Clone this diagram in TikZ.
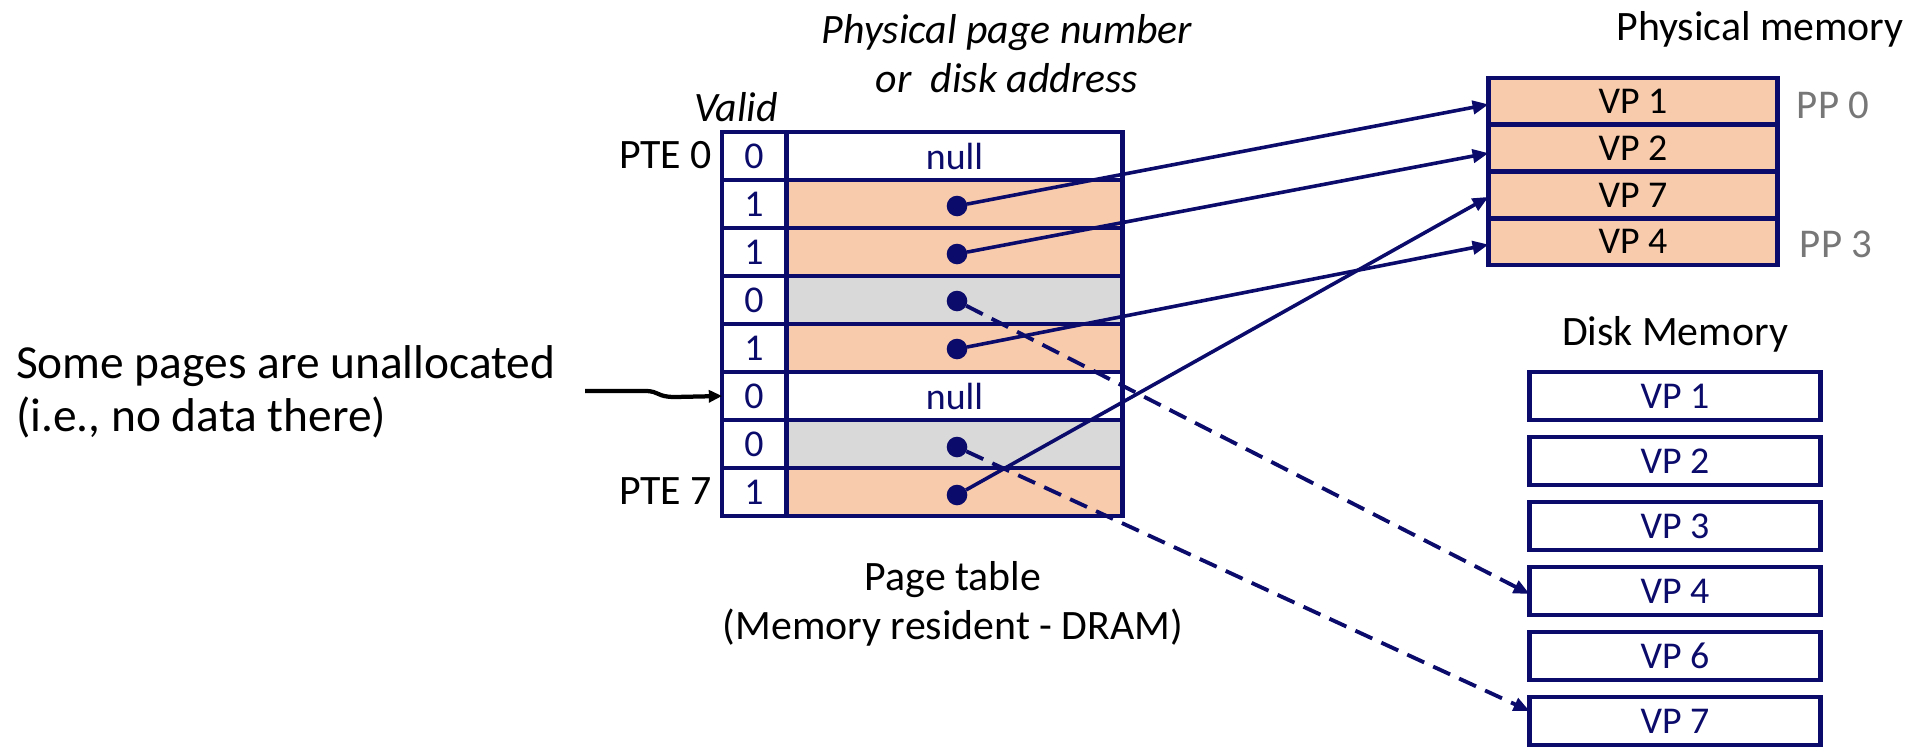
\documentclass[tikz,border=0pt]{standalone}
\usepackage{fontspec}
\setmainfont{Carlito}
\usetikzlibrary{arrows.meta,calc}
\definecolor{navy}{HTML}{0B0B6B}
\definecolor{peach}{HTML}{F8CBAD}
\definecolor{lightgray}{HTML}{D9D9D9}
\definecolor{ppgray}{HTML}{777777}
\begin{document}
\begin{tikzpicture}[x=0.75bp,y=-0.75bp,
  every node/.style={inner sep=0pt,outer sep=0pt},
  bigfont/.style={font=\fontsize{31.5pt}{36.75pt}\selectfont},
  leftfont/.style={font=\fontsize{35.7pt}{39.5pt}\selectfont},
  cellfont/.style={font=\fontsize{28.5pt}{30pt}\selectfont},
  ppfont/.style={font=\fontsize{30.75pt}{34pt}\selectfont},
  itfont/.style={font=\itshape\fontsize{31.5pt}{36.75pt}\selectfont},
  vcell/.style={draw=navy,line width=3.4pt,fill=white,minimum width=48pt,minimum height=36pt,text=navy,cellfont},
  acell/.style={draw=navy,line width=3.4pt,minimum width=252.75pt,minimum height=36pt,text=navy,cellfont},
  pmcell/.style={draw=navy,line width=3.4pt,fill=peach,minimum width=217.5pt,minimum height=35.06pt,text=black,cellfont},
  dkcell/.style={draw=navy,line width=3.4pt,fill=white,minimum width=219pt,minimum height=36pt,text=navy,cellfont},
  dot/.style={circle,fill=navy,minimum size=15.5pt},
  conn/.style={draw=navy,line width=2.7pt,-{Triangle[length=12pt,width=10pt]}},
  dashconn/.style={conn,line width=2.9pt,dash pattern=on 14pt off 7.5pt},
]
\useasboundingbox (0,0) rectangle (1929,746);

% titles
\node[itfont,align=center,anchor=base] (ppn) at (1007,92) {Physical page number\\or\ \ disk address};
\node[itfont,anchor=base] (valid) at (736,121) {Valid};
\node[bigfont,anchor=base] (pmtitle) at (1760,40) {Physical memory};
\node[bigfont,anchor=base] (dktitle) at (1675,345) {Disk Memory};

% page table: valid bits
\node[vcell] (v0) at (754,156) {0};
\node[vcell] (v1) at (754,204) {1};
\node[vcell] (v2) at (754,252) {1};
\node[vcell] (v3) at (754,300) {0};
\node[vcell] (v4) at (754,348) {1};
\node[vcell] (v5) at (754,396) {0};
\node[vcell] (v6) at (754,444) {0};
\node[vcell] (v7) at (754,492) {1};
% page table: physical page number or disk address
\node[acell,fill=white] (a0) at (954.5,156) {null};
\node[acell,fill=peach] (a1) at (954.5,204) {};
\node[acell,fill=peach] (a2) at (954.5,252) {};
\node[acell,fill=lightgray] (a3) at (954.5,300) {};
\node[acell,fill=peach] (a4) at (954.5,348) {};
\node[acell,fill=white] (a5) at (954.5,396) {null};
\node[acell,fill=lightgray] (a6) at (954.5,444) {};
\node[acell,fill=peach] (a7) at (954.5,492) {};

\node[bigfont,anchor=base east] (pte0) at (712,168) {PTE 0};
\node[bigfont,anchor=base east] (pte7) at (712,504) {PTE 7};
\node[bigfont,align=center] (ptlabel) at (953,604) {Page table\\(Memory resident - DRAM)};

% pointers
\node[dot] (p1) at (957,206) {};
\node[dot] (p2) at (957,254) {};
\node[dot] (p3) at (957,301) {};
\node[dot] (p4) at (957,349) {};
\node[dot] (p6) at (957,447) {};
\node[dot] (p7) at (957,495) {};

% physical memory
\node[pmcell] (pm1) at (1633,101.4) {VP 1};
\node[pmcell] (pm2) at (1633,148.1) {VP 2};
\node[pmcell] (pm3) at (1633,194.9) {VP 7};
\node[pmcell] (pm4) at (1633,241.6) {VP 4};
\node[ppfont,text=ppgray,anchor=base] (pp0) at (1833,118) {PP 0};
\node[ppfont,text=ppgray,anchor=base] (pp3) at (1836,257) {PP 3};

% disk memory
\node[dkcell] (dk1) at (1675,396) {VP 1};
\node[dkcell] (dk2) at (1675,461) {VP 2};
\node[dkcell] (dk3) at (1675,526) {VP 3};
\node[dkcell] (dk4) at (1675,591) {VP 4};
\node[dkcell] (dk6) at (1675,656) {VP 6};
\node[dkcell] (dk7) at (1675,721) {VP 7};

% mappings
\draw[conn] (p1) -- ($(pm1.west)+(0,3)$);
\draw[conn] (p2) -- ($(pm2.west)+(0,5)$);
\draw[conn] (p4) -- ($(pm4.west)+(0,3)$);
\draw[conn] (p7) -- ($(pm3.west)+(0,2)$);
\draw[dashconn] (p3) -- ($(dk4.west)+(0,3)$);
\draw[dashconn] (p6) -- ($(dk7.west)+(0,-10)$);

% annotation
\node[leftfont,align=left,anchor=north west] (note) at (16,346) {Some pages are unallocated\\(i.e., no data there)};
\coordinate (nstart) at (585,391);
\draw[black,line width=3.2pt,-{Triangle[length=10pt,width=9pt]}] (nstart) -- (645,391) .. controls (660,391) and (656,397) .. (675,397) -- (v5.west);
\end{tikzpicture}
\end{document}
